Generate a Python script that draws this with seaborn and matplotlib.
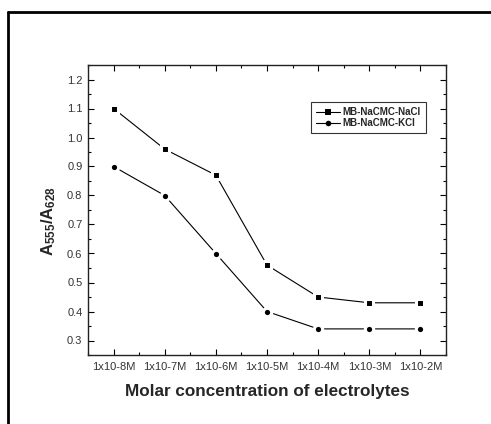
import matplotlib
matplotlib.use("Agg")
import matplotlib.pyplot as plt
from matplotlib.lines import Line2D
from matplotlib.ticker import MultipleLocator, AutoMinorLocator
import numpy as np
import pandas as pd
import seaborn as sns

concentrations = ["1x10-8M", "1x10-7M", "1x10-6M", "1x10-5M", "1x10-4M", "1x10-3M", "1x10-2M"]
nacl_ratio = [1.10, 0.96, 0.87, 0.56, 0.45, 0.43, 0.43]
kcl_ratio = [0.90, 0.80, 0.60, 0.40, 0.34, 0.34, 0.34]
series_names = ["MB-NaCMC-NaCl", "MB-NaCMC-KCl"]

sns.set_theme(style="ticks")
plt.rcParams["font.family"] = ["Liberation Sans", "DejaVu Sans"]
plt.rcParams["mathtext.fontset"] = "custom"
plt.rcParams["mathtext.rm"] = "Liberation Sans:bold"
plt.rcParams["mathtext.bf"] = "Liberation Sans:bold"
plt.rcParams["mathtext.it"] = "Liberation Sans:bold"

positions = np.arange(1, len(concentrations) + 1)
df = pd.DataFrame({
    "pos": np.concatenate([positions, positions]),
    "ratio": nacl_ratio + kcl_ratio,
    "series": [series_names[0]] * len(positions) + [series_names[1]] * len(positions),
})

fig = plt.figure(figsize=(4.91, 4.24), dpi=100)
W, H = 491, 424
ax = fig.add_axes([88 / W, 1 - 355 / H, (446 - 88) / W, (355 - 65) / H])

# white marker edges leave a small gap where the line meets each symbol
sns.lineplot(data=df, x="pos", y="ratio", hue="series", style="series",
             markers={series_names[0]: "s", series_names[1]: "o"}, dashes=False,
             palette={series_names[0]: "black", series_names[1]: "black"},
             linewidth=0.8, markersize=6.0, markeredgewidth=2.2,
             markeredgecolor="white", ax=ax, legend=False)

ax.set_xlim(0.5, 7.5)
ax.set_ylim(0.25, 1.25)
ax.set_xticks(positions)
ax.set_xticklabels(concentrations)
ax.xaxis.set_minor_locator(AutoMinorLocator(2))
ax.yaxis.set_major_locator(MultipleLocator(0.1))
ax.yaxis.set_minor_locator(MultipleLocator(0.05))
ax.tick_params(which="both", direction="in", top=True, right=True,
               labelsize=8, colors="black", labelcolor="#333333", width=0.8)
ax.tick_params(which="major", length=4)
ax.tick_params(which="minor", length=2)
ax.tick_params(axis="x", pad=5)
ax.tick_params(axis="y", pad=4)
for sp in ax.spines.values():
    sp.set_linewidth(1.0)
    sp.set_color("#222222")

ax.set_xlabel("Molar concentration of electrolytes", fontsize=12.3, fontweight="bold", labelpad=9)
ax.set_ylabel("$\\mathbf{A_{555}/A_{628}}$", fontsize=12)
ax.yaxis.set_label_coords(-0.084, 0.462)

handles = [
    Line2D([], [], color="black", lw=0.8, marker="s", markersize=3.8, markeredgewidth=0),
    Line2D([], [], color="black", lw=0.8, marker="o", markersize=4.0, markeredgewidth=0),
]
leg = ax.legend(handles, series_names, loc="upper right", bbox_to_anchor=(0.944, 0.872),
                prop={"weight": "bold", "size": 7}, frameon=True, fancybox=False,
                edgecolor="black", handlelength=2.5, handletextpad=0.3,
                borderpad=0.5, labelspacing=0.15, borderaxespad=0)
leg.get_frame().set_linewidth(0.8)

# outer frame: left and top edges
fig.add_artist(Line2D([8 / W, 8 / W], [0, 1 - 12 / H], color="black", lw=2, transform=fig.transFigure))
fig.add_artist(Line2D([8 / W, 1], [1 - 12 / H, 1 - 12 / H], color="black", lw=2, transform=fig.transFigure))

fig.savefig("out.png", dpi=100, facecolor="white")
